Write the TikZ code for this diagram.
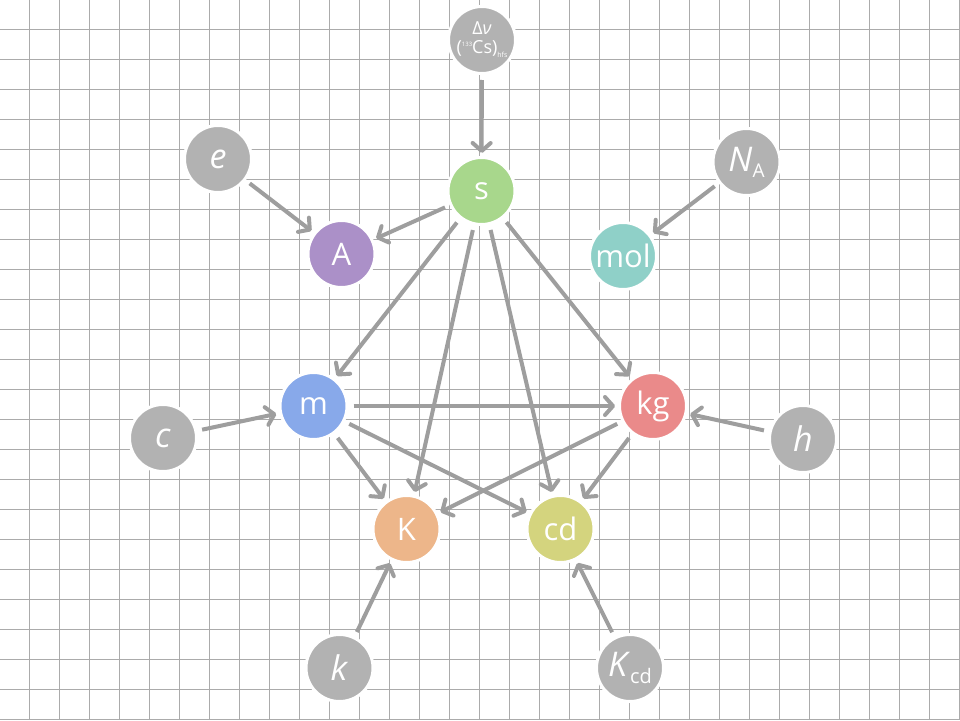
\documentclass[tikz,border=0pt]{standalone}
\usepackage{fontspec}
\setmainfont{Open Sans}
\usetikzlibrary{arrows.meta}
\definecolor{gridc}{HTML}{ABABAB}
\definecolor{arrc}{HTML}{9E9E9E}
\definecolor{grayn}{HTML}{B2B2B2}
\definecolor{cs}{HTML}{A8D78C}
\definecolor{cA}{HTML}{AB90C8}
\definecolor{cm}{HTML}{88A9EA}
\definecolor{ckg}{HTML}{EA8A8A}
\definecolor{cK}{HTML}{EDB68A}
\definecolor{ccd}{HTML}{D4D47E}
\definecolor{cmol}{HTML}{8FD0C8}
\tikzset{
  unit/.style={circle, minimum size=67pt, inner sep=0pt, draw=white, line width=3pt, text=white,
    font=\fontsize{31}{34}\selectfont},
  const/.style={unit, fill=grayn, font=\fontsize{34}{36}\selectfont},
  arr/.style={draw=arrc, line width=4pt, shorten <=5pt, shorten >=3pt,
    -{Straight Barb[length=8pt,width=18pt,round]}}
}
\begin{document}
\begin{tikzpicture}[x=1pt,y=-1pt]
\useasboundingbox (0,0) rectangle (960,720);
\fill[white] (0,0) rectangle (960,720);
\foreach \i in {0,...,31} {
  \draw[gridc, line width=1.5pt] (29.5+30*\i,0) -- (29.5+30*\i,720);
}
\foreach \j in {0,...,23} {
  \draw[gridc, line width=1.5pt] (0,29.5+30*\j) -- (960,29.5+30*\j);
}
\node[const, font=\fontsize{18}{18}\selectfont, align=center] (dnu) at (482,40)
  {Δ\textit{ν}\\[1pt](\raisebox{7pt}{\fontsize{6}{6}\selectfont 133}Cs)\raisebox{-4pt}{\fontsize{7}{7}\selectfont hfs}};
\node[unit, fill=cs] (s) at (481.5,191) {s};
\node[const] (e) at (218,159) {\textit{e}};
\node[unit, fill=cA] (A) at (341.5,254) {A};
\node[const] (NA) at (746.5,162) {\textit{N}\raisebox{-6pt}{\fontsize{19}{20}\selectfont A}};
\node[unit, fill=cmol] (mol) at (623,256) {mol};
\node[unit, fill=cm] (m) at (313.5,406) {m};
\node[unit, fill=ckg] (kg) at (653,406) {kg};
\node[const] (c) at (163,438) {\textit{c}};
\node[const] (h) at (803,439) {\textit{h}};
\node[unit, fill=cK] (K) at (406.5,529) {K};
\node[unit, fill=ccd] (cd) at (560.5,529) {cd};
\node[const] (k) at (339.5,668) {\textit{k}};
\node[const] (Kcd) at (630,668) {\textit{K}\raisebox{-7pt}{\fontsize{20}{22}\selectfont cd}};
\draw[arr] (dnu) -- (s);
\draw[arr] (e) -- (A);
\draw[arr] (s) -- (A);
\draw[arr] (NA) -- (mol);
\draw[arr] (s) -- (m);
\draw[arr] (s) -- (K);
\draw[arr] (s) -- (cd);
\draw[arr] (s) -- (kg);
\draw[arr] (c) -- (m);
\draw[arr] (h) -- (kg);
\draw[arr] (m) -- (kg);
\draw[arr] (m) -- (K);
\draw[arr] (m) -- (cd);
\draw[arr] (kg) -- (K);
\draw[arr] (kg) -- (cd);
\draw[arr] (k) -- (K);
\draw[arr] (Kcd) -- (cd);
\end{tikzpicture}
\end{document}
